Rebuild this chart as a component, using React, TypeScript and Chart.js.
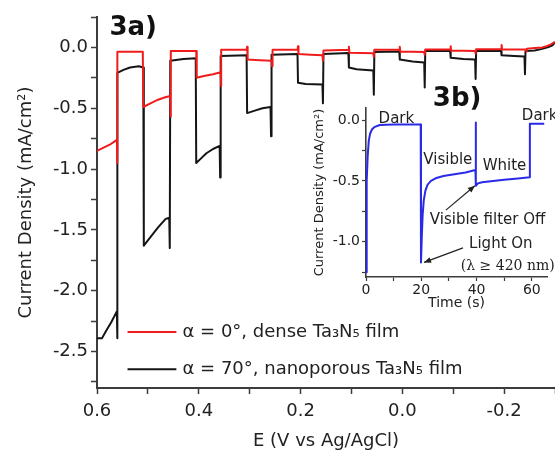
import React, { useEffect, useRef } from 'react';
import { Chart, registerables } from 'chart.js';

Chart.register(...registerables);

// ---------------- Main chart (3a) data ----------------
// Potential (V vs Ag/AgCl) and current density (mA/cm2), dense film (alpha = 0)
const denseE = [
  0.600, 0.590, 0.575, 0.561, 0.560, 0.560, 0.510, 0.509, 0.495, 0.480,
  0.466, 0.456, 0.455, 0.455, 0.405, 0.404, 0.390, 0.372, 0.357, 0.356,
  0.356, 0.306, 0.305, 0.304, 0.280, 0.257, 0.256, 0.255, 0.206, 0.205,
  0.204, 0.180, 0.157, 0.156, 0.155, 0.106, 0.105, 0.104, 0.080, 0.057,
  0.056, 0.055, 0.006, 0.005, 0.004, -0.020, -0.043, -0.044, -0.045, -0.094,
  -0.095, -0.096, -0.120, -0.143, -0.144, -0.145, -0.194, -0.195, -0.196, -0.220,
  -0.243, -0.244, -0.245, -0.260, -0.275, -0.285, -0.292, -0.300,
];
const denseJ = [
  -0.85, -0.83, -0.80, -0.76, -0.95, -0.035, -0.035, -0.49, -0.46, -0.43,
  -0.41, -0.40, -0.57, -0.03, -0.03, -0.25, -0.235, -0.22, -0.205, -0.32,
  -0.02, -0.02, 0.005, -0.10, -0.105, -0.11, -0.155, -0.02, -0.02, 0.01,
  -0.055, -0.06, -0.065, -0.11, -0.025, -0.02, 0.005, -0.044, -0.045, -0.048,
  -0.077, -0.02, -0.018, 0.005, -0.035, -0.035, -0.038, -0.06, -0.018, -0.018,
  0.01, -0.028, -0.028, -0.03, -0.05, -0.015, -0.015, 0.02, -0.018, -0.018,
  -0.018, -0.035, -0.01, -0.005, 0.0, 0.012, 0.025, 0.045,
];

// nanoporous film (alpha = 70)
const nanoE = [
  0.600, 0.590, 0.582, 0.572, 0.561, 0.560, 0.560, 0.548, 0.535, 0.518,
  0.509, 0.508, 0.495, 0.480, 0.465, 0.458, 0.457, 0.456, 0.430, 0.406,
  0.405, 0.395, 0.385, 0.372, 0.359, 0.358, 0.357, 0.306, 0.305, 0.290,
  0.275, 0.259, 0.258, 0.257, 0.206, 0.205, 0.190, 0.157, 0.156, 0.155,
  0.106, 0.105, 0.090, 0.057, 0.056, 0.055, 0.006, 0.005, -0.020, -0.043,
  -0.044, -0.045, -0.094, -0.095, -0.120, -0.143, -0.144, -0.145, -0.194, -0.195,
  -0.220, -0.240, -0.241, -0.242, -0.260, -0.275, -0.287, -0.295, -0.300,
];
const nanoJ = [
  -2.39, -2.39, -2.33, -2.26, -2.17, -2.39, -0.21, -0.185, -0.165, -0.155,
  -0.165, -1.63, -1.56, -1.48, -1.41, -1.40, -1.65, -0.11, -0.095, -0.09,
  -0.95, -0.91, -0.87, -0.835, -0.81, -1.07, -0.07, -0.065, -0.54, -0.52,
  -0.50, -0.49, -0.73, -0.06, -0.055, -0.29, -0.30, -0.305, -0.46, -0.055,
  -0.045, -0.165, -0.18, -0.19, -0.39, -0.038, -0.033, -0.10, -0.115, -0.125,
  -0.33, -0.03, -0.03, -0.085, -0.095, -0.10, -0.26, -0.03, -0.03, -0.065,
  -0.07, -0.075, -0.22, -0.03, -0.025, -0.012, 0.003, 0.018, 0.04,
];

const mainXTicks = [0.6, 0.5, 0.4, 0.3, 0.2, 0.1, 0.0, -0.1, -0.2, -0.3];
const mainXLabels = ['0.6', '', '0.4', '', '0.2', '', '0.0', '', '-0.2', ''];
const mainYTicks = [-2.75, -2.5, -2.25, -2.0, -1.75, -1.5, -1.25, -1.0, -0.75, -0.5, -0.25, 0.0, 0.25];
const mainYLabels = ['', '-2.5', '', '-2.0', '', '-1.5', '', '-1.0', '', '-0.5', '', '0.0', ''];

const seriesLabels = ['\u03b1 = 0\u00b0, dense Ta\u2083N\u2085 film', '\u03b1 = 70\u00b0, nanoporous Ta\u2083N\u2085 film'];

// ---------------- Inset (3b) data ----------------
const insetT = [
  0, 0.15, 0.35, 0.6, 1.0, 1.5, 2.2, 3.2, 5, 10,
  19.8, 19.9, 20.2, 20.5, 20.9, 21.5, 22.3, 23.5, 25.5, 28,
  32, 36, 39.6, 39.7, 39.8, 40.5, 42, 46, 50, 55,
  59.2, 59.3, 64.5,
];
const insetJ = [
  -1.25, -0.85, -0.5, -0.3, -0.17, -0.11, -0.075, -0.055, -0.04, -0.035,
  -0.035, -1.17, -0.95, -0.78, -0.66, -0.58, -0.53, -0.50, -0.475, -0.46,
  -0.445, -0.43, -0.41, -0.02, -0.54, -0.52, -0.51, -0.50, -0.49, -0.48,
  -0.47, -0.03, -0.03,
];
const insetXTicks = [0, 10, 20, 30, 40, 50, 60];
const insetXLabels = ['0', '', '20', '', '40', '', '60'];
const insetYTicks = [-1.25, -1.0, -0.75, -0.5, -0.25, 0.0];
const insetYLabels = ['', '-1.0', '', '-0.5', '', '0.0'];

const FONT = '"DejaVu Sans", "Liberation Sans", sans-serif';
const AXIS = '#3c3c3c';
const TEXT = '#222';

const mainDecor = {
  id: 'mainDecor',
  afterDraw(chart: any) {
    const { ctx, scales } = chart;
    const x = scales.x;
    const y = scales.y;
    ctx.save();
    ctx.textAlign = 'left';
    ctx.textBaseline = 'middle';
    ctx.fillStyle = '#111';
    ctx.font = `bold 26px ${FONT}`;
    ctx.fillText('3a)', x.getPixelForValue(0.5755), y.getPixelForValue(0.16));
    const rows = [-2.34, -2.645];
    chart.data.datasets.forEach((ds: any, i: number) => {
      const yy = y.getPixelForValue(rows[i]);
      ctx.strokeStyle = ds.borderColor;
      ctx.lineWidth = 2;
      ctx.beginPath();
      ctx.moveTo(x.getPixelForValue(0.540), yy);
      ctx.lineTo(x.getPixelForValue(0.444), yy);
      ctx.stroke();
      ctx.font = `18px ${FONT}`;
      ctx.fillStyle = TEXT;
      ctx.fillText(ds.label, x.getPixelForValue(0.432), yy);
    });
    ctx.restore();
  },
};

function arrow(ctx: any, x1: number, y1: number, x2: number, y2: number) {
  ctx.beginPath();
  ctx.moveTo(x1, y1);
  ctx.lineTo(x2, y2);
  ctx.stroke();
  const a = Math.atan2(y2 - y1, x2 - x1);
  const L = 7;
  const W = 3;
  ctx.beginPath();
  ctx.moveTo(x2, y2);
  ctx.lineTo(x2 - L * Math.cos(a) + W * Math.sin(a), y2 - L * Math.sin(a) - W * Math.cos(a));
  ctx.lineTo(x2 - L * Math.cos(a) - W * Math.sin(a), y2 - L * Math.sin(a) + W * Math.cos(a));
  ctx.closePath();
  ctx.fill();
}

const insetDecor = {
  id: 'insetDecor',
  afterDraw(chart: any) {
    const { ctx, scales } = chart;
    const x = scales.x;
    const y = scales.y;
    const px = (t: number) => x.getPixelForValue(t);
    const py = (v: number) => y.getPixelForValue(v);
    ctx.save();
    ctx.textBaseline = 'middle';
    ctx.textAlign = 'left';
    ctx.fillStyle = '#111';
    ctx.font = `bold 26px ${FONT}`;
    ctx.fillText('3b)', px(24.2), py(0.173));

    ctx.fillStyle = TEXT;
    ctx.font = `15px ${FONT}`;
    ctx.textAlign = 'center';
    ctx.fillText('Dark', px(11.0), py(0.008));
    ctx.fillText('Visible', px(29.6), py(-0.33));
    ctx.fillText('White', px(50.1), py(-0.38));
    ctx.fillText('Light On', px(48.8), py(-1.02));
    ctx.textAlign = 'left';
    ctx.fillText('Dark', px(56.4), py(0.035));
    ctx.fillText('Visible filter Off', px(23.1), py(-0.818));
    ctx.textAlign = 'center';
    ctx.font = `14px "DejaVu Serif", serif`;
    ctx.fillText('(\u03bb \u2265 420 nm)', px(51.3), py(-1.2));

    ctx.strokeStyle = '#222';
    ctx.fillStyle = '#222';
    ctx.lineWidth = 1.2;
    arrow(ctx, px(35.1), py(-1.05), px(21.0), py(-1.17));
    arrow(ctx, px(28.9), py(-0.74), px(39.4), py(-0.54));
    ctx.restore();
  },
};

function lookup(values: number[], labels: string[]) {
  return (v: any) => {
    const i = values.findIndex((w) => Math.abs(w - Number(v)) < 1e-9);
    return i >= 0 ? labels[i] : '';
  };
}

export default function App() {
  const mainRef = useRef<HTMLCanvasElement>(null);
  const insetRef = useRef<HTMLCanvasElement>(null);

  useEffect(() => {
    const tickFont = { family: FONT, size: 18 };
    const main = new Chart(mainRef.current as HTMLCanvasElement, {
      type: 'line',
      data: {
        datasets: [
          {
            label: seriesLabels[0],
            data: denseE.map((e, i) => ({ x: e, y: denseJ[i] })),
            borderColor: '#f01c1c',
            borderWidth: 2,
            borderJoinStyle: 'round',
            pointRadius: 0,
            tension: 0,
            fill: false,
          },
          {
            label: seriesLabels[1],
            data: nanoE.map((e, i) => ({ x: e, y: nanoJ[i] })),
            borderColor: '#151515',
            borderWidth: 2,
            borderJoinStyle: 'round',
            pointRadius: 0,
            tension: 0,
            fill: false,
          },
        ],
      },
      options: {
        responsive: false,
        animation: false,
        devicePixelRatio: 1,
        events: [],
        layout: { padding: { top: 17, right: 0, bottom: 0, left: 0 } },
        plugins: { legend: { display: false }, tooltip: { enabled: false } },
        scales: {
          x: {
            type: 'linear',
            min: -0.3,
            max: 0.6,
            reverse: true,
            afterBuildTicks: (s: any) => {
              s.ticks = mainXTicks.map((v) => ({ value: v }));
            },
            afterFit: (s: any) => {
              s.height = 67;
              s.paddingRight = 0;
            },
            ticks: {
              callback: lookup(mainXTicks, mainXLabels),
              font: tickFont,
              color: TEXT,
              padding: 7,
              maxRotation: 0,
              autoSkip: false,
            },
            grid: { drawOnChartArea: false, drawTicks: true, tickLength: 6, tickColor: AXIS, tickWidth: 1.5 },
            border: { display: true, color: AXIS, width: 2 },
            title: {
              display: true,
              text: 'E (V vs Ag/AgCl)',
              font: { family: FONT, size: 18 },
              color: TEXT,
              padding: { top: 0, bottom: 3 },
            },
          },
          y: {
            type: 'linear',
            min: -2.8,
            max: 0.25,
            afterBuildTicks: (s: any) => {
              s.ticks = mainYTicks.map((v) => ({ value: v }));
            },
            afterFit: (s: any) => {
              s.width = 97;
            },
            ticks: {
              callback: lookup(mainYTicks, mainYLabels),
              font: tickFont,
              color: TEXT,
              padding: 3,
              autoSkip: false,
            },
            grid: { drawOnChartArea: false, drawTicks: true, tickLength: 6, tickColor: AXIS, tickWidth: 1.5 },
            border: { display: true, color: AXIS, width: 2 },
            title: {
              display: true,
              text: 'Current Density (mA/cm\u00b2)',
              font: { family: FONT, size: 18 },
              color: TEXT,
              padding: { top: 16, bottom: 0 },
            },
          },
        },
      },
      plugins: [mainDecor],
    } as any);

    const insetFont = { family: FONT, size: 14 };
    const inset = new Chart(insetRef.current as HTMLCanvasElement, {
      type: 'line',
      data: {
        datasets: [
          {
            label: 'Inset',
            data: insetT.map((t, i) => ({ x: t, y: insetJ[i] })),
            borderColor: '#2a2ae6',
            borderWidth: 2,
            borderJoinStyle: 'round',
            pointRadius: 0,
            tension: 0,
            fill: false,
          },
        ],
      },
      options: {
        responsive: false,
        animation: false,
        devicePixelRatio: 1,
        events: [],
        layout: { padding: { top: 28, right: 8, bottom: 0, left: 0 } },
        plugins: { legend: { display: false }, tooltip: { enabled: false } },
        scales: {
          x: {
            type: 'linear',
            min: 0,
            max: 65.5,
            afterBuildTicks: (s: any) => {
              s.ticks = insetXTicks.map((v) => ({ value: v }));
            },
            afterFit: (s: any) => {
              s.height = 48;
              s.paddingRight = 0;
            },
            ticks: {
              callback: lookup(insetXTicks, insetXLabels),
              font: insetFont,
              color: TEXT,
              padding: 1,
              maxRotation: 0,
              autoSkip: false,
            },
            grid: { drawOnChartArea: false, drawTicks: true, tickLength: 4, tickColor: AXIS, tickWidth: 1.2 },
            border: { display: true, color: AXIS, width: 1.6 },
            title: {
              display: true,
              text: 'Time (s)',
              font: insetFont,
              color: TEXT,
              padding: { top: 0, bottom: 13 },
            },
          },
          y: {
            type: 'linear',
            min: -1.29,
            max: 0.1,
            afterBuildTicks: (s: any) => {
              s.ticks = insetYTicks.map((v) => ({ value: v }));
            },
            afterFit: (s: any) => {
              s.width = 71;
            },
            ticks: {
              callback: lookup(insetYTicks, insetYLabels),
              font: insetFont,
              color: TEXT,
              padding: 2,
              autoSkip: false,
            },
            grid: { drawOnChartArea: false, drawTicks: true, tickLength: 4, tickColor: AXIS, tickWidth: 1.2 },
            border: { display: true, color: AXIS, width: 1.6 },
            title: {
              display: true,
              text: 'Current Density (mA/cm\u00b2)',
              font: { family: FONT, size: 13 },
              color: TEXT,
              padding: { top: 17, bottom: 0 },
            },
          },
        },
      },
      plugins: [insetDecor],
    } as any);

    return () => {
      main.destroy();
      inset.destroy();
    };
  }, []);

  return (
    <div
      style={{
        position: 'fixed',
        left: 0,
        top: 0,
        width: 555,
        height: 455,
        background: '#ffffff',
        overflow: 'hidden',
      }}
    >
      <canvas
        ref={mainRef}
        width={555}
        height={455}
        style={{ position: 'absolute', left: 0, top: 0, width: 555, height: 455 }}
      />
      <canvas
        ref={insetRef}
        width={260}
        height={245}
        style={{ position: 'absolute', left: 295, top: 80, width: 260, height: 245 }}
      />
    </div>
  );
}
